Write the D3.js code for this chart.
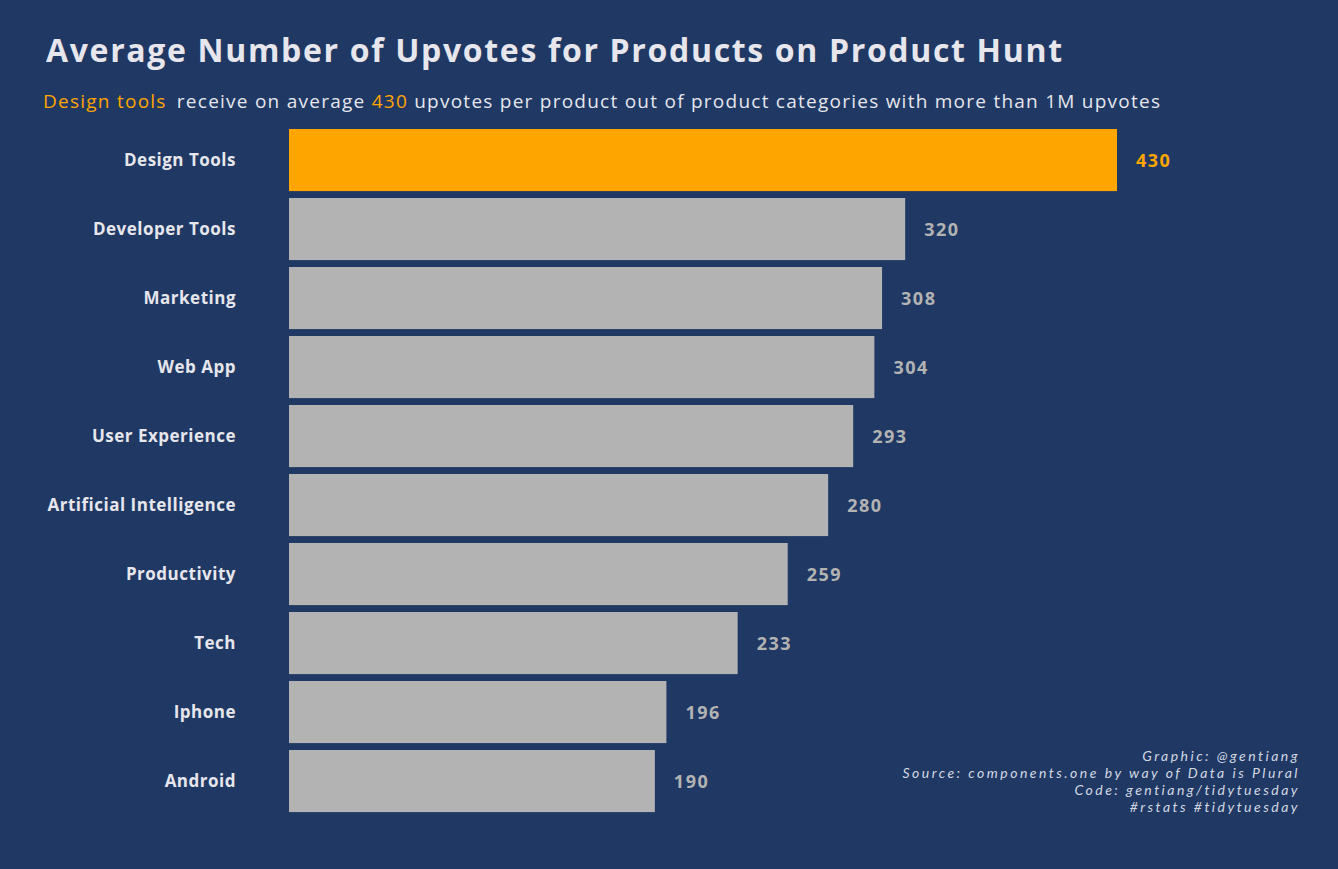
<!DOCTYPE html>
<html><head><meta charset="utf-8">
<script src="https://cdn.jsdelivr.net/npm/d3@7"></script>
<style>
html,body{margin:0;padding:0;background:#1f3864;}
svg{display:block;font-family:"Open Sans","Noto Sans",sans-serif;}
</style></head>
<body>
<svg id="chart" width="1338" height="869"></svg>
<script>
const categories = ["Design Tools","Developer Tools","Marketing","Web App","User Experience","Artificial Intelligence","Productivity","Tech","Iphone","Android"];
const values = [430,320,308,304,293,280,259,233,196,190];
const highlight = "Design Tools";
const titleText = "Average Number of Upvotes for Products on Product Hunt";
const captionLines = ["Graphic: @gentiang","Source: components.one by way of Data is Plural","Code: gentiang/tidytuesday","#rstats #tidytuesday"];

const W = 1338, H = 869;
const bg = "#1f3864", orange = "#ffa500", grey = "#b3b3b3", light = "#e6e6ec";
const svg = d3.select("#chart");
svg.append("rect").attr("width",W).attr("height",H).attr("fill",bg);

function fitWidth(sel, target){
  const node = sel.node();
  const len = node.getComputedTextLength();
  const n = node.textContent.length;
  sel.attr("letter-spacing", ((target - len)/(n-1)).toFixed(3));
}

const x = d3.scaleLinear().domain([0,430]).range([289,1117]);
const y = d3.scaleBand().domain(categories).range([129,812.1]).paddingInner(0.1).paddingOuter(0);
const data = categories.map((c,i)=>({c, v: values[i]}));

svg.append("g").selectAll("rect").data(data).join("rect")
  .attr("x", x(0)).attr("y", d=>y(d.c))
  .attr("width", d=>x(d.v)-x(0)).attr("height", y.bandwidth())
  .attr("fill", d=>d.c===highlight?orange:grey);

svg.append("g").selectAll("text").data(data).join("text")
  .attr("x", d=>x(d.v)+19).attr("y", d=>y(d.c)+y.bandwidth()/2)
  .attr("dy","0.36em")
  .attr("font-size",18).attr("font-weight",700).attr("letter-spacing",1.5)
  .attr("fill", d=>d.c===highlight?orange:grey)
  .text(d=>d.v);

svg.append("g").selectAll("text").data(data).join("text")
  .attr("x", 236).attr("y", d=>y(d.c)+y.bandwidth()/2)
  .attr("dy","0.36em").attr("text-anchor","end")
  .attr("font-size",17).attr("font-weight",700).attr("letter-spacing",0.5)
  .attr("fill", light)
  .text(d=>d.c);

const title = svg.append("text").attr("x",46).attr("y",62)
  .attr("font-size",32).attr("font-weight",700).attr("fill",light)
  .text(titleText);
fitWidth(title, 1016);

const sub = svg.append("text").attr("x",43).attr("y",108)
  .attr("font-size",19).attr("font-weight",400).attr("fill",light);
sub.append("tspan").attr("fill",orange).text("Design tools");
sub.append("tspan").attr("dx",4).text(" receive on average ");
sub.append("tspan").attr("fill",orange).text(values[0]);
sub.append("tspan").text(" upvotes per product out of product categories with more than 1M upvotes");
fitWidth(sub, 1113);

const cap = svg.append("g").selectAll("text").data(captionLines).join("text")
  .attr("x",1300).attr("y",(d,i)=>760.5+i*17.2)
  .attr("text-anchor","end").attr("font-size",14)
  .attr("font-family","Lato, 'Open Sans', sans-serif").attr("font-style","italic")
  .attr("fill","#d4d8e2").text(d=>d);
// uniform spacing derived from the longest line
const longest = cap.filter((d,i)=>i===1);
fitWidth(longest, 395);
cap.attr("letter-spacing", longest.attr("letter-spacing"));
</script>
</body></html>
